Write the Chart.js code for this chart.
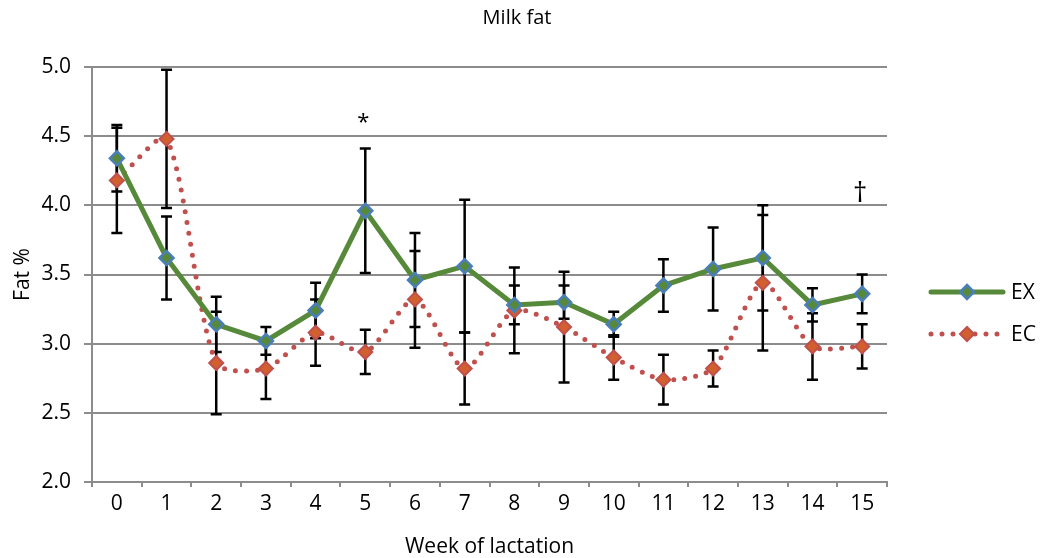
<!DOCTYPE html>
<html>
<head>
<meta charset="utf-8">
<title>Milk fat</title>
<script src="https://cdn.jsdelivr.net/npm/chart.js@4.4.1/dist/chart.umd.min.js"></script>
<style>
  html, body { margin: 0; padding: 0; background: #ffffff; }
  #wrap { width: 1050px; height: 558px; position: relative; }
</style>
</head>
<body>
<div id="wrap"><canvas id="chart"></canvas></div>
<script>
// Weeks of lactation
const weeks = ['0', '1', '2', '3', '4', '5', '6', '7', '8', '9', '10', '11', '12', '13', '14', '15'];

// EX group: mean fat % and error (±)
const exMean = [4.34, 3.62, 3.14, 3.02, 3.24, 3.96, 3.46, 3.56, 3.28, 3.30, 3.14, 3.42, 3.54, 3.62, 3.28, 3.36];
const exErr  = [0.24, 0.30, 0.20, 0.10, 0.20, 0.45, 0.34, 0.48, 0.14, 0.12, 0.09, 0.19, 0.30, 0.38, 0.12, 0.14];

// EC group: mean fat % and error (±)
const ecMean = [4.18, 4.48, 2.86, 2.82, 3.08, 2.94, 3.32, 2.82, 3.24, 3.12, 2.90, 2.74, 2.82, 3.44, 2.98, 2.98];
const ecErr  = [0.38, 0.50, 0.37, 0.22, 0.24, 0.16, 0.35, 0.26, 0.31, 0.40, 0.16, 0.18, 0.13, 0.49, 0.24, 0.16];

// Significance symbols per week
const sigSymbols = ['', '', '', '', '', '*', '', '', '', '', '', '', '', '', '', '†'];

// Y axis ticks
const yTicks = [2.0, 2.5, 3.0, 3.5, 4.0, 4.5, 5.0];

const FONT = '"Open Sans", "Liberation Sans", sans-serif';
const GREEN = '#56893a';
const BLUE = '#4a7ebb';
const RED = '#c0504d';
const ORANGE = '#d2602f';
const GRID = '#8c8c8c';

// vertical level (in fat %) and size at which each symbol sits
const sigStyle = { '*': { level: 4.60, size: 22 }, '†': { level: 4.08, size: 28 } };

const errorBars = {
  id: 'errorBars',
  beforeDatasetsDraw(chart) {
    const ctx = chart.ctx;
    const x = chart.scales.x, y = chart.scales.y;
    const cap = 5.5;
    ctx.save();
    ctx.strokeStyle = '#000';
    ctx.lineWidth = 2.5;
    [[exMean, exErr], [ecMean, ecErr]].forEach(([m, e]) => {
      m.forEach((v, i) => {
        const px = x.getPixelForValue(i);
        const top = y.getPixelForValue(v + e[i]);
        const bot = y.getPixelForValue(v - e[i]);
        ctx.beginPath();
        ctx.moveTo(px, top); ctx.lineTo(px, bot);
        ctx.moveTo(px - cap, top); ctx.lineTo(px + cap, top);
        ctx.moveTo(px - cap, bot); ctx.lineTo(px + cap, bot);
        ctx.stroke();
      });
    });
    ctx.restore();
  }
};

const extras = {
  id: 'extras',
  afterDraw(chart) {
    const ctx = chart.ctx;
    const x = chart.scales.x, y = chart.scales.y;
    ctx.save();
    // title
    ctx.fillStyle = '#000';
    ctx.font = '20px ' + FONT;
    ctx.textAlign = 'center';
    ctx.textBaseline = 'middle';
    ctx.fillText('Milk fat', 517, 18);

    // significance symbols
    sigSymbols.forEach((s, i) => {
      if (!s) return;
      ctx.font = sigStyle[s].size + 'px ' + FONT;
      ctx.fillText(s, x.getPixelForValue(i) - 2, y.getPixelForValue(sigStyle[s].level));
    });

    // legend
    const items = chart.data.datasets;
    const lx0 = 931, lx1 = 1003, ly = [292, 334];
    items.forEach((ds, k) => {
      const yy = ly[k];
      ctx.save();
      ctx.strokeStyle = ds.borderColor;
      ctx.lineWidth = ds.borderWidth;
      ctx.lineCap = 'round';
      ctx.setLineDash(ds.borderDash || []);
      ctx.beginPath();
      ctx.moveTo(lx0, yy); ctx.lineTo(lx1, yy);
      ctx.stroke();
      ctx.restore();
      const cx = (lx0 + lx1) / 2, r = ds.pointRadius;
      ctx.beginPath();
      ctx.moveTo(cx, yy - r); ctx.lineTo(cx + r, yy); ctx.lineTo(cx, yy + r); ctx.lineTo(cx - r, yy);
      ctx.closePath();
      ctx.fillStyle = ds.pointBackgroundColor;
      ctx.fill();
      ctx.lineWidth = ds.pointBorderWidth;
      ctx.strokeStyle = ds.pointBorderColor;
      ctx.stroke();
      ctx.fillStyle = '#000';
      ctx.font = '21px ' + FONT;
      ctx.textAlign = 'left';
      ctx.textBaseline = 'middle';
      ctx.fillText(ds.label, 1011, yy + 1);
    });
    ctx.restore();
  }
};

new Chart(document.getElementById('chart'), {
  type: 'line',
  data: {
    labels: weeks,
    datasets: [
      {
        label: 'EX',
        data: exMean,
        borderColor: GREEN,
        borderWidth: 5,
        tension: 0,
        pointStyle: 'rectRot',
        pointRadius: 7,
        pointBackgroundColor: GREEN,
        pointBorderColor: BLUE,
        pointBorderWidth: 2.5,
        order: 1
      },
      {
        label: 'EC',
        data: ecMean,
        borderColor: RED,
        borderWidth: 5,
        borderDash: [0, 11],
        borderCapStyle: 'round',
        tension: 0.25,
        pointStyle: 'rectRot',
        pointRadius: 7,
        pointBackgroundColor: ORANGE,
        pointBorderColor: RED,
        pointBorderWidth: 2,
        order: 2
      }
    ]
  },
  options: {
    responsive: true,
    maintainAspectRatio: false,
    animation: false,
    layout: { padding: { top: 67, right: 163, left: 0, bottom: 0 } },
    plugins: {
      legend: { display: false },
      title: { display: false },
      tooltip: { enabled: false }
    },
    scales: {
      x: {
        type: 'category',
        offset: true,
        grid: { offset: true, drawOnChartArea: false, color: GRID, lineWidth: 2, tickLength: 5 },
        border: { display: true, color: GRID, width: 2 },
        ticks: { color: '#000', font: { family: FONT, size: 21 }, padding: 4, maxRotation: 0 },
        title: { display: true, text: 'Week of lactation', color: '#000', font: { family: FONT, size: 21 }, padding: { top: 0, bottom: -2 } },
        afterFit(s) { s.height = 76; }
      },
      y: {
        min: 2, max: 5,
        afterBuildTicks(s) { s.ticks = yTicks.map(v => ({ value: v })); },
        grid: { color: GRID, lineWidth: 2, tickLength: 8 },
        border: { display: true, color: GRID, width: 2 },
        ticks: { color: '#000', font: { family: FONT, size: 21 }, padding: 13, callback: v => Number(v).toFixed(1) },
        title: { display: true, text: 'Fat %', color: '#000', font: { family: FONT, size: 21 }, padding: { top: 10, bottom: 0 } },
        afterFit(s) { s.width = 92; }
      }
    }
  },
  plugins: [errorBars, extras]
});
</script>
</body>
</html>
